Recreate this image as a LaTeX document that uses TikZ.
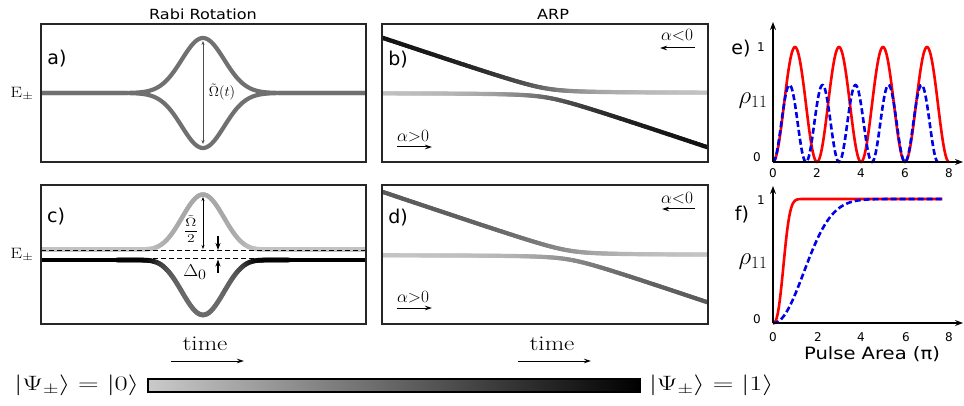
\documentclass[tikz,border=0pt]{standalone}
\usepackage{fontspec}
\setsansfont{DejaVu Sans}
\newfontfamily\widesans{DejaVu Sans}[FakeStretch=1.15]
\usepackage{graphicx}
\usetikzlibrary{arrows.meta,positioning}

\definecolor{lightst}{RGB}{202,202,202}
\definecolor{rabigray}{RGB}{112,112,112}
\definecolor{rhored}{RGB}{255,0,0}
\definecolor{rhoblue}{RGB}{0,0,235}

\newcommand{\hwide}[2][1.2]{\scalebox{#1}[1]{#2}}

\begin{document}
\begin{tikzpicture}[x=1pt,y=-1pt,
  panel/.style={draw=black!85, line width=1.4pt},
  ptitle/.style={font=\widesans\fontsize{14}{14}\selectfont, inner sep=0pt},
  tag/.style={font=\sffamily\fontsize{19}{19}\selectfont, inner sep=0pt},
  tick/.style={font=\sffamily\fontsize{12}{12}\selectfont, inner sep=0pt},
  mathlbl/.style={font=\fontsize{15}{15}\selectfont, inner sep=0pt},
  alphalbl/.style={font=\fontsize{17}{17}\selectfont, inner sep=0pt},
  lvl/.style={line width=4.2pt, line cap=round},
  thinarr/.style={line width=0.8pt, {Stealth[length=4pt,width=3pt]}-{Stealth[length=4pt,width=3pt]}},
  gaparr/.style={line width=1.3pt, -{Stealth[length=7pt,width=5pt]}},
  sweeparr/.style={line width=1pt, -{Stealth[length=7pt,width=4.5pt]}},
  axisarr/.style={line width=1.2pt, -{Stealth[length=8pt,width=6pt]}},
  rholine/.style={line width=2.6pt, rhored},
  rhodash/.style={line width=2.6pt, rhoblue, dash pattern=on 6pt off 3pt},
  declare function={
    gs(\x)=exp(-((\x-203)/30)^2);
    cm(\x)=1-10.5/sqrt(110.25+(120*gs(\x))^2);
    cu(\x)=254.75-0.5*sqrt(110.25+(120*gs(\x))^2);
    cl(\x)=254.75+0.5*sqrt(110.25+(120*gs(\x))^2);
    bd(\x)=0.3344*(\x-382)-55;
    bu(\x)=93+bd(\x)/2-0.5*sqrt(bd(\x)^2+81);
    bl(\x)=93+bd(\x)/2+0.5*sqrt(bd(\x)^2+81);
    bf(\x)=0.5*(1-bd(\x)/sqrt(bd(\x)^2+625));
    dd(\x)=0.3374*(\x-382)-63;
    du(\x)=255+dd(\x)/2-0.5*sqrt(dd(\x)^2+81);
    dl(\x)=255+dd(\x)/2+0.5*sqrt(dd(\x)^2+81);
    df(\x)=0.5*(1-dd(\x)/sqrt(dd(\x)^2+625));
  }]
\useasboundingbox (0,0) rectangle (964,406);

% column titles
\node[ptitle] (trabi) at (203,14) {Rabi Rotation};
\node[ptitle] (tarp) at (553,14) {ARP};

% a) Rabi rotation, resonant
\begin{scope}
\clip (41,24) rectangle (366,162);
\draw[lvl, rabigray] plot[domain=38:370, samples=170] (\x,{93-55*gs(\x)});
\draw[lvl, rabigray] plot[domain=38:370, samples=170] (\x,{93+55*gs(\x)});
\end{scope}
\draw[panel] (41,24) rectangle (366,162);
\coordinate (aT) at (203,41);
\coordinate (aB) at (203,144);
\draw[thinarr, black!70] (aT) -- (aB);
\node[mathlbl, font=\fontsize{14}{14}\selectfont] (omt) at (222,92) {$\tilde\Omega(t)$};
\node[tag] (la) at (57,59) {a)};
\node[mathlbl] (ea) at (22,94) {\hwide[1.25]{$\mathrm{E}_\pm$}};

% b) ARP, resonant
\begin{scope}
\clip (382,24) rectangle (708,162);
\foreach \i in {0,...,162}{
  \pgfmathsetmacro\xa{382+2*\i}
  \pgfmathsetmacro\xb{384+2*\i}
  \pgfmathtruncatemacro\ku{95*bf(\xa+1)}
  \pgfmathtruncatemacro\kl{95-\ku}
  \draw[lvl, draw=black!\ku!lightst] (\xa,{bu(\xa)}) -- (\xb,{bu(\xb)});
  \draw[lvl, draw=black!\kl!lightst] (\xa,{bl(\xa)}) -- (\xb,{bl(\xb)});
}
\end{scope}
\draw[panel] (382,24) rectangle (708,162);
\node[tag] (lb) at (398,60) {b)};
\node[alphalbl] (bneg) at (677,35) {$\alpha{<}0$};
\coordinate (bnA) at (695,48);
\coordinate (bnB) at (660,48);
\draw[sweeparr] (bnA) -- (bnB);
\node[alphalbl] (bpos) at (413,136) {$\alpha{>}0$};
\coordinate (bpA) at (397,147);
\coordinate (bpB) at (432,147);
\draw[sweeparr] (bpA) -- (bpB);

% c) Rabi rotation, detuned
\begin{scope}
\clip (41,185) rectangle (366,324);
\foreach \i in {0,...,162}{
  \pgfmathsetmacro\xa{41+2*\i}
  \pgfmathsetmacro\xb{43+2*\i}
  \pgfmathtruncatemacro\ku{24+12*cm(\xa+1)}
  \pgfmathtruncatemacro\kl{100-46*cm(\xa+1)}
  \draw[lvl, line width=4.5pt, draw=black!\ku] (\xa,{cu(\xa)}) -- (\xb,{cu(\xb)});
  \draw[lvl, line width=4.8pt, draw=black!\kl] (\xa,{cl(\xa)}) -- (\xb,{cl(\xb)});
}
\end{scope}
\coordinate (dwL) at (41,251);
\coordinate (dwR) at (366,251);
\coordinate (dlL) at (41,258.5);
\coordinate (dlR) at (366,258.5);
\draw[line width=1pt, dash pattern=on 5pt off 3pt] (dwL) -- (dwR);
\draw[line width=1pt, dash pattern=on 5pt off 3pt] (dlL) -- (dlR);
\draw[panel] (41,185) rectangle (366,324);
\coordinate (cT) at (203,197);
\coordinate (cB) at (203,249);
\draw[thinarr] (cT) -- (cB);
\node[mathlbl, font=\fontsize{12}{12}\selectfont] (omh) at (191,229) {\hwide[1.3]{$\displaystyle\frac{\tilde\Omega}{2}$}};
\coordinate (gdA) at (218,236);
\coordinate (gdB) at (218,250);
\coordinate (guA) at (218,273);
\coordinate (guB) at (218,259.5);
\draw[gaparr] (gdA) -- (gdB);
\draw[gaparr] (guA) -- (guB);
\node[mathlbl, font=\fontsize{19}{19}\selectfont] (del) at (195,272) {\hwide[1.12]{$\Delta_0$}};
\node[tag] (lc) at (56,217) {c)};
\node[mathlbl] (ec) at (22,255) {\hwide[1.25]{$\mathrm{E}_\pm$}};

% d) ARP, detuned
\begin{scope}
\clip (382,185) rectangle (708,324);
\foreach \i in {0,...,162}{
  \pgfmathsetmacro\xa{382+2*\i}
  \pgfmathsetmacro\xb{384+2*\i}
  \pgfmathtruncatemacro\ku{58*df(\xa+1)}
  \pgfmathtruncatemacro\kl{58-\ku}
  \draw[lvl, draw=black!\ku!lightst] (\xa,{du(\xa)}) -- (\xb,{du(\xb)});
  \draw[lvl, draw=black!\kl!lightst] (\xa,{dl(\xa)}) -- (\xb,{dl(\xb)});
}
\end{scope}
\draw[panel] (382,185) rectangle (708,324);
\node[tag] (ld) at (398,218) {d)};
\node[alphalbl] (dneg) at (677,198) {$\alpha{<}0$};
\coordinate (dnA) at (695,209);
\coordinate (dnB) at (662,209);
\draw[sweeparr] (dnA) -- (dnB);
\node[alphalbl] (dpos) at (413,297) {$\alpha{>}0$};
\coordinate (dpA) at (397,308);
\coordinate (dpB) at (432,308);
\draw[sweeparr] (dpA) -- (dpB);

% time axes
\node[mathlbl, font=\fontsize{21}{21}\selectfont] (timea) at (205,344) {\hwide{time}};
\coordinate (taA) at (171,361);
\coordinate (taB) at (244,361);
\draw[sweeparr] (taA) -- (taB);
\node[mathlbl, font=\fontsize{21}{21}\selectfont] (timeb) at (552,344) {\hwide{time}};
\coordinate (tbA) at (518,361);
\coordinate (tbB) at (591,361);
\draw[sweeparr] (tbA) -- (tbB);

% colour bar
\node[draw, line width=1.6pt, inner sep=0pt, minimum width=492pt, minimum height=13pt,
      left color=lightst, right color=black] (cbar) at (394,385.5) {};
\node[mathlbl, font=\fontsize{22}{22}\selectfont, left=8pt of cbar] (st0) {\hwide[1.38]{$|\Psi_\pm\rangle = |0\rangle$}};
\node[mathlbl, font=\fontsize{22}{22}\selectfont, right=8pt of cbar] (st1) {\hwide[1.38]{$|\Psi_\pm\rangle = |1\rangle$}};

% e) populations, Rabi
\coordinate (eo) at (773,162);
\coordinate (ex) at (963,162);
\coordinate (ey) at (773,22);
\draw[rholine] plot[domain=0:8, samples=201] ({773+22*\x},{162-115*sin(90*\x)^2});
\draw[rhodash] plot[domain=0:7.5, samples=221] ({773+22*\x},{162-77*sin(120*\x)^2});
\draw[axisarr] (eo) -- (ex);
\draw[axisarr] (eo) -- (ey);
\foreach \v/\xx in {0/773,2/817,4/861,6/905,8/949}
  \node[tick] (et\v) at (\xx,173) {\v};
\node[tick] (ey1) at (761,47) {1};
\node[tick] (ey0) at (757,157) {0};
\node[tag] (le) at (741,49) {e)};
\node[mathlbl, font=\fontsize{24}{24}\selectfont] (rhoe) at (753,101) {$\rho_{11}$};

% f) populations, ARP
\coordinate (fo) at (773,323);
\coordinate (fx) at (963,323);
\coordinate (fy) at (773,186);
\draw[rholine] (fo) -- plot[domain=0.02:7.7, samples=220] ({773+22*\x},{323-124*(1-exp(-(\x/0.57)^2.6))});
\draw[rhodash] (fo) -- plot[domain=0.02:7.7, samples=200] ({773+22*\x},{323-124*(1-exp(-(\x/1.9)^2.1))});
\draw[axisarr] (fo) -- (fx);
\draw[axisarr] (fo) -- (fy);
\foreach \v/\xx in {0/773,2/818,4/861,6/906,8/949}
  \node[tick] (ft\v) at (\xx,337) {\v};
\node[tick] (fy1) at (761,200) {1};
\node[tick] (fy0) at (757,319) {0};
\node[tag] (lf) at (742,215) {f)};
\node[mathlbl, font=\fontsize{24}{24}\selectfont] (rhof) at (753,262) {$\rho_{11}$};
\node[ptitle, font=\widesans\fontsize{17}{17}\selectfont] (parea) at (872,354) {Pulse Area (π)};
\end{tikzpicture}
\end{document}
